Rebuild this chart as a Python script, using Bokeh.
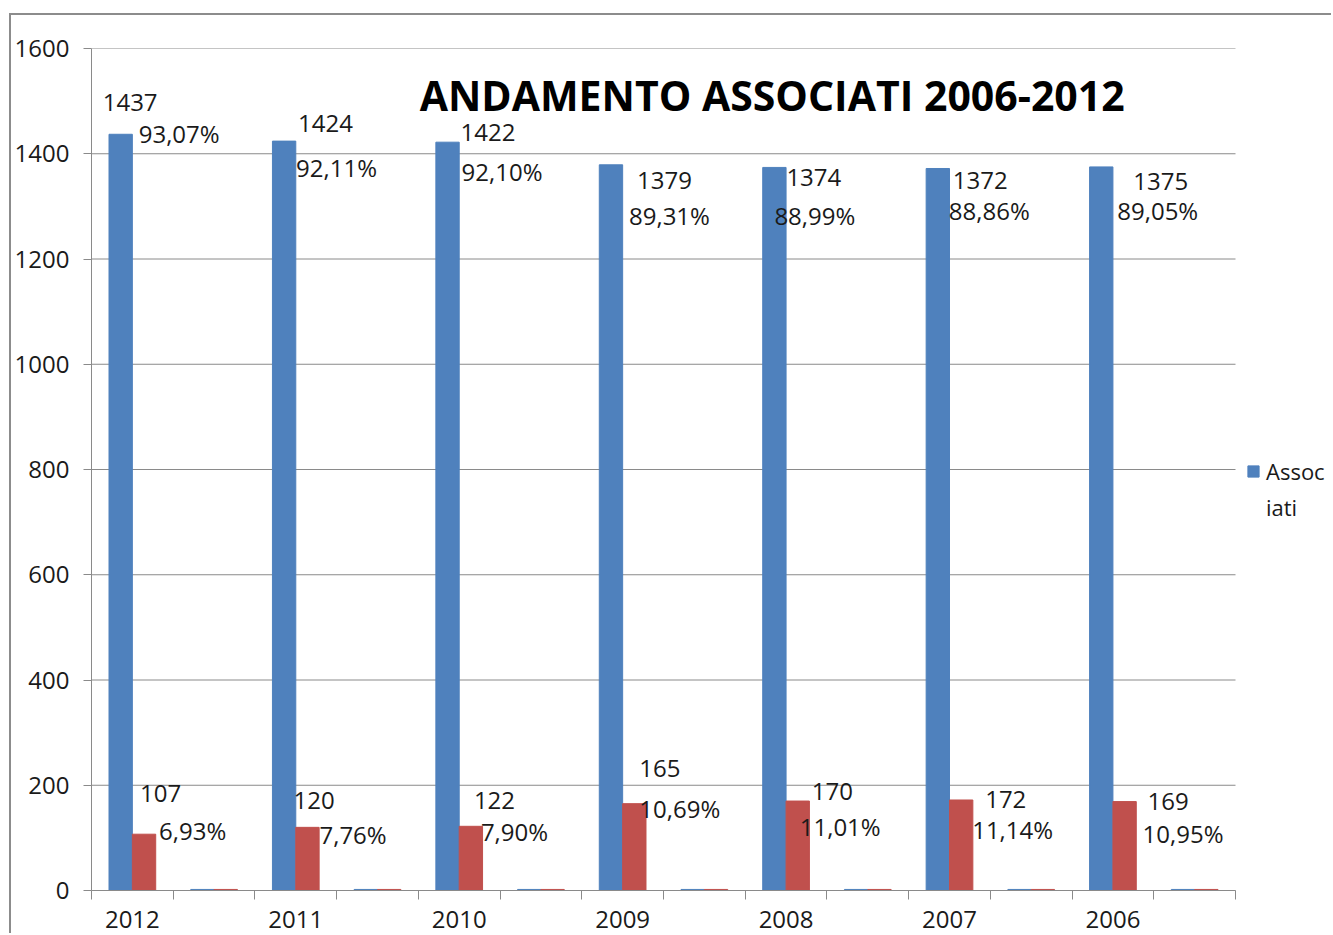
from bokeh.plotting import figure
from bokeh.models import ColumnDataSource, FixedTicker, Legend, LegendItem, Label, Range1d
from bokeh.core.properties import value
from bokeh.embed import file_html
from bokeh.resources import INLINE

# ---------------- data ----------------
years = ["2012", "2011", "2010", "2009", "2008", "2007", "2006"]
associati = [1437, 1424, 1422, 1379, 1374, 1372, 1375]
altri = [107, 120, 122, 165, 170, 172, 169]
pct_associati = ["93,07%", "92,11%", "92,10%", "89,31%", "88,99%", "88,86%", "89,05%"]
pct_altri = ["6,93%", "7,76%", "7,90%", "10,69%", "11,01%", "11,14%", "10,95%"]
# the unlabelled category after each year holds near-zero bars
spacer_associati = [2, 2, 2, 2, 2, 2, 2]
spacer_altri = [2, 2, 2, 2, 2, 2, 2]
y_ticks = [0, 200, 400, 600, 800, 1000, 1200, 1400, 1600]

# ---------------- label placement (pixel offsets, manual in original) ----------------
blue_val_dx = [-18, 14, 13, 26, 12, 15, 32]
blue_val_dy = [-32, -18, -10, 16, 10, 12, 15]
blue_pct_dx = [18, 12, 14, 18, 0, 11, 16]
blue_pct_dy = [-1, 26, 29, 51, 48, 42, 44]
red_val_dx = [-4, -14, 3, 5, 14, 24, 23]
red_val_dy = [-41, -27, -26, -35, -10, 0, 0]
red_pct_dx = [15, 12, 10, 5, 2, 11, 18]
red_pct_dy = [-4, 7, 5, 5, 25, 30, 32]

BLUE = "#4F81BD"
RED = "#C0504D"
GRID = "#8a8a8a"
FONT = "Open Sans"
BAR_W = 1 / 3.5
n = len(years)
n_slots = 2 * n

# layout (pixels)
FIG_W, FIG_H = 1331, 933
LEFT, TOP, BOTTOM = 91, 48, 43
PLOT_W = 1144                      # width of the category area
FRAME_W = FIG_W - LEFT             # frame runs to the right edge (legend lives there)
x_end = n_slots * FRAME_W / PLOT_W

year_slot = [2 * i for i in range(n)]
spacer_slot = [2 * i + 1 for i in range(n)]

p = figure(width=FIG_W, height=FIG_H, output_backend="svg", toolbar_location=None,
           x_range=Range1d(0, x_end), y_range=Range1d(0, 1600),
           min_border_left=LEFT, min_border_top=TOP, min_border_right=0,
           min_border_bottom=BOTTOM)
p.outline_line_color = None
p.background_fill_color = None
p.border_fill_color = None
p.styles = {
    "background": ("linear-gradient(#8c8c8c, #8c8c8c) 9px 13px / 2px 100% no-repeat, "
                   "linear-gradient(#8c8c8c, #8c8c8c) 9px 13px / 100% 2px no-repeat, white"),
}

# horizontal gridlines limited to the category area
p.segment(x0=[0] * len(y_ticks), x1=[n_slots] * len(y_ticks), y0=y_ticks, y1=y_ticks,
          line_color=GRID, line_width=1, level="underlay")

src_year = ColumnDataSource(dict(
    xb=[s + 0.5 - BAR_W / 2 for s in year_slot],
    xr=[s + 0.5 + BAR_W / 2 for s in year_slot],
    a=associati, o=altri))
src_spacer = ColumnDataSource(dict(
    xb=[s + 0.5 - BAR_W / 2 for s in spacer_slot],
    xr=[s + 0.5 + BAR_W / 2 for s in spacer_slot],
    a=spacer_associati, o=spacer_altri))

rb = p.vbar(x="xb", top="a", bottom=0, width=BAR_W, source=src_year,
            fill_color=BLUE, line_color=BLUE)
p.vbar(x="xr", top="o", bottom=0, width=BAR_W, source=src_year,
       fill_color=RED, line_color=RED)
p.vbar(x="xb", top="a", bottom=0, width=BAR_W, source=src_spacer,
       fill_color=BLUE, line_color=BLUE)
p.vbar(x="xr", top="o", bottom=0, width=BAR_W, source=src_spacer,
       fill_color=RED, line_color=RED)
# invisible renderer used only for the wrapped second legend line
r_dummy = p.vbar(x=[], top=[], bottom=0, width=BAR_W, fill_alpha=0, line_alpha=0)

# data labels
def add_labels(xs, ys, texts, dx, dy):
    s = ColumnDataSource(dict(x=xs, y=ys, t=texts, dx=dx, dy=dy))
    p.text(x="x", y="y", text="t", x_offset="dx", y_offset="dy", source=s,
           text_font=value(FONT), text_font_size="24px", text_color="#1a1a1a",
           text_align="left", text_baseline="middle")

xb = src_year.data["xb"]
xr = src_year.data["xr"]
add_labels(xb, associati, [str(v) for v in associati], blue_val_dx, blue_val_dy)
add_labels(xb, associati, pct_associati, blue_pct_dx, blue_pct_dy)
add_labels(xr, altri, [str(v) for v in altri], red_val_dx, red_val_dy)
add_labels(xr, altri, pct_altri, red_pct_dx, red_pct_dy)

# title
p.add_layout(Label(x=8.33, y=1511, text="ANDAMENTO ASSOCIATI 2006-2012",
                   text_font=FONT, text_font_style="bold", text_font_size="41px",
                   text_color="black", text_align="center", text_baseline="middle"))

# y axis
yax = p.yaxis[0]
yax.ticker = FixedTicker(ticks=y_ticks)
yax.major_tick_out = 8
yax.major_tick_in = 0
yax.minor_tick_out = 0
yax.minor_tick_in = 0
yax.axis_line_color = GRID
yax.major_tick_line_color = GRID
yax.major_label_text_font = FONT
yax.major_label_text_font_size = "24px"
yax.major_label_text_color = "#1a1a1a"
yax.major_label_standoff = 14

# x axis
xax = p.xaxis[0]
centers = [s + 0.5 for s in year_slot]
xax.bounds = (0, n_slots)
xax.ticker = FixedTicker(ticks=centers, minor_ticks=list(range(n_slots + 1)))
xax.major_label_overrides = {c: y for c, y in zip(centers, years)}
xax.major_tick_out = 0
xax.major_tick_in = 0
xax.minor_tick_out = 9
xax.minor_tick_in = 0
xax.minor_tick_line_color = GRID
xax.axis_line_color = GRID
xax.major_label_text_font = FONT
xax.major_label_text_font_size = "24px"
xax.major_label_text_color = "#1a1a1a"
xax.major_label_standoff = 11

p.xgrid.grid_line_color = None
p.ygrid.grid_line_color = None

legend = Legend(items=[LegendItem(label="Assoc", renderers=[rb]),
                       LegendItem(label="iati", renderers=[r_dummy])],
                location=(1155, 368), orientation="vertical",
                padding=0, margin=0, spacing=6, border_line_color=None,
                background_fill_alpha=0,
                glyph_width=14, glyph_height=14, label_standoff=6, label_height=26,
                label_text_font=FONT, label_text_font_size="22px",
                label_text_color="#1a1a1a")
p.add_layout(legend, "center")

open("out.html", "w").write(file_html(p, INLINE))
